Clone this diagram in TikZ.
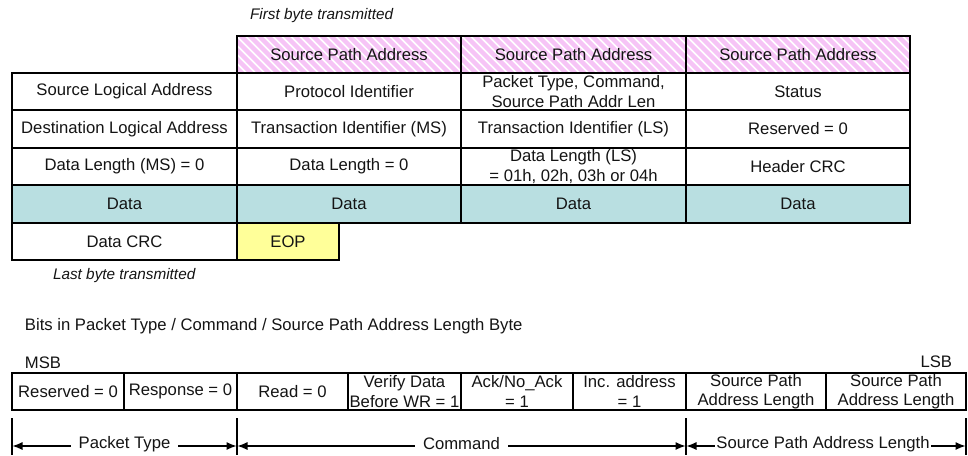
\documentclass[tikz,border=0pt]{standalone}
\usepackage{fontspec}
\setmainfont{Liberation Sans}
\usetikzlibrary{arrows.meta}
\definecolor{datac}{RGB}{185,223,225}
\definecolor{eopc}{RGB}{255,255,153}
\definecolor{stripec}{RGB}{246,196,246}
\definecolor{txt}{RGB}{20,20,20}
\newcommand{\cellbox}[7]{%
 \pgfmathsetmacro{\cwid}{(#4-#2)*0.75}%
 \pgfmathsetmacro{\chgt}{(#5-#3)*0.75}%
 \node[cellst,#6,minimum width=\cwid pt,minimum height=\chgt pt] (#1) at ({(#2+#4)/2},{(#3+#5)/2}) {#7};}
\tikzset{
 cellst/.style={draw=black,line width=0.85pt,inner sep=0pt,outer sep=0pt,align=center,text=txt,
   font=\fontsize{12.5}{14.6}\selectfont},
 datacell/.style={fill=datac},
 eopcell/.style={fill=eopc},
 plaintext/.style={inner sep=0pt,outer sep=0pt,text=txt,font=\fontsize{12.5}{14.6}\selectfont},
 itext/.style={inner sep=0pt,outer sep=0pt,text=txt,font=\fontsize{11.5}{13.5}\selectfont\itshape},
 tick/.style={line width=0.85pt,draw=black},
 dimarrow/.style={line width=0.85pt,{Latex[length=7.5pt,width=6pt]}-{Latex[length=7.5pt,width=6pt]}},
 lbl/.style={fill=white,inner sep=0pt,inner xsep=6pt,outer sep=0pt,text=txt,font=\fontsize{12.5}{14.6}\selectfont}
}
\begin{document}
\begin{tikzpicture}[x=0.75pt,y=-0.75pt]
\useasboundingbox (0,0) rectangle (968,455);
% titles
\node[itext,anchor=west] (first) at (250,16) {First byte transmitted};
\node[itext,anchor=west] (last) at (53,276) {Last byte transmitted};
% hatch of header row
\begin{scope}
 \clip (237,36) rectangle (910,73);
 \foreach \s in {190,199,...,910} {
   \draw[stripec,line width=3.3pt] (\s,30) -- ++(50,50);
 }
\end{scope}
% header row
\cellbox{h1}{237}{36}{461}{73}{}{Source Path Address}
\cellbox{h2}{461}{36}{686}{73}{}{Source Path Address}
\cellbox{h3}{686}{36}{910}{73}{}{Source Path Address}
% row 1
\cellbox{a0}{12}{73}{237}{110}{}{Source Logical Address}
\cellbox{a1}{237}{73}{461}{110}{}{Protocol Identifier}
\cellbox{a2}{461}{73}{686}{110}{}{Packet Type, Command,\\Source Path Addr Len}
\cellbox{a3}{686}{73}{910}{110}{}{Status}
% row 2
\cellbox{b0}{12}{110}{237}{148}{}{Destination Logical Address}
\cellbox{b1}{237}{110}{461}{148}{}{Transaction Identifier (MS)}
\cellbox{b2}{461}{110}{686}{148}{}{Transaction Identifier (LS)}
\cellbox{b3}{686}{110}{910}{148}{}{Reserved = 0}
% row 3
\cellbox{c0}{12}{148}{237}{185}{}{Data Length (MS) = 0}
\cellbox{c1}{237}{148}{461}{185}{}{Data Length = 0}
\cellbox{c2}{461}{148}{686}{185}{}{Data Length (LS)\\= 01h, 02h, 03h or 04h}
\cellbox{c3}{686}{148}{910}{185}{}{Header CRC}
% row 4
\cellbox{d0}{12}{185}{237}{223}{datacell}{Data}
\cellbox{d1}{237}{185}{461}{223}{datacell}{Data}
\cellbox{d2}{461}{185}{686}{223}{datacell}{Data}
\cellbox{d3}{686}{185}{910}{223}{datacell}{Data}
% row 5
\cellbox{e0}{12}{223}{237}{260}{}{Data CRC}
\cellbox{e1}{237}{223}{339}{260}{eopcell}{EOP}
% bits section
\node[plaintext,anchor=west] (bits) at (25,326) {Bits in Packet Type / Command / Source Path Address Length Byte};
\node[plaintext,anchor=west] (msb) at (25,363) {MSB};
\node[plaintext,anchor=east] (lsb) at (952,362) {LSB};
\cellbox{k0}{12}{373}{124}{410}{}{Reserved = 0}
\cellbox{k1}{124}{373}{237}{410}{}{Response = 0}
\cellbox{k2}{237}{373}{348}{410}{}{Read = 0}
\cellbox{k3}{348}{373}{461}{410}{}{Verify Data\\Before WR = 1}
\cellbox{k4}{461}{373}{573}{410}{}{Ack/No\_Ack\\= 1}
\cellbox{k5}{573}{373}{686}{410}{}{Inc. address\\= 1}
\cellbox{k6}{686}{373}{826}{410}{}{Source Path\\Address Length}
\cellbox{k7}{826}{373}{966}{410}{}{Source Path\\Address Length}
% ticks
\coordinate (t0a) at (12,418); \coordinate (t0b) at (12,455);
\coordinate (t1a) at (237,418); \coordinate (t1b) at (237,455);
\coordinate (t2a) at (686,418); \coordinate (t2b) at (686,455);
\coordinate (t3a) at (966,418); \coordinate (t3b) at (966,455);
\draw[tick] (t0a) -- (t0b);
\draw[tick] (t1a) -- (t1b);
\draw[tick] (t2a) -- (t2b);
\draw[tick] (t3a) -- (t3b);
\coordinate (p0) at (12.5,446); \coordinate (p1) at (236.5,446);
\coordinate (q0) at (237.5,446); \coordinate (q1) at (685.5,446);
\coordinate (r0) at (686.5,446); \coordinate (r1) at (965.5,446);
\draw[dimarrow] (p0) -- (p1);
\draw[dimarrow] (q0) -- (q1);
\draw[dimarrow] (r0) -- (r1);
\node[lbl] (ptype) at (124.5,444) {Packet Type};
\node[lbl] (cmd) at (461.5,444) {Command};
\node[lbl,inner xsep=1pt] (spal) at (823,444) {Source Path Address Length};
\end{tikzpicture}
\end{document}
